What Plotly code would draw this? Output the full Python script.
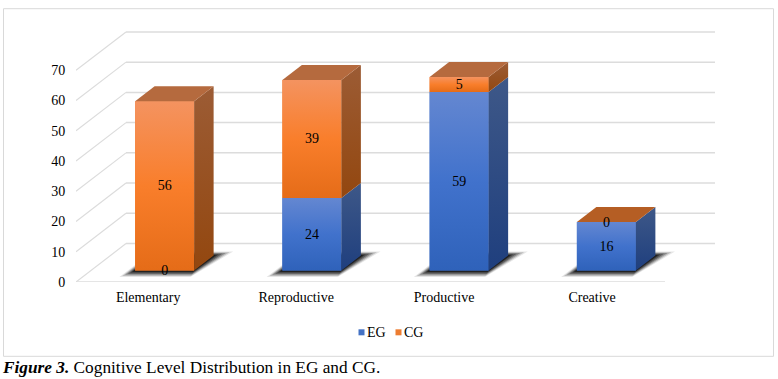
import plotly.graph_objects as go

categories = ["Elementary", "Reproductive", "Productive", "Creative"]
eg_values = [0, 24, 59, 16]
cg_values = [56, 39, 5, 0]
y_ticks = [0, 10, 20, 30, 40, 50, 60, 70]
caption_bold = "Figure 3."
caption_rest = " Cognitive Level Distribution in EG and CG."

W, H = 778, 379
L, R, FLOOR = 76.0, 715.0, 281.7
PX_X, PX_Y = 147.25, 3.023
Y_MAX = 83.0
TOP = FLOOR - Y_MAX * PX_Y
X_MAX = (R - L) / PX_X
DX, DY = 50 / PX_X, 38.4 / PX_Y      # full depth of the 3D floor, in axis units
D0, D1 = 0.30, 0.69                  # bar depth along the floor
BAR_W = 59 / PX_X
FONT = "Liberation Serif"
GRID = "#DCDCDC"

ORANGE = [[0, "#E56C18"], [0.5, "#F97E2B"], [1, "#F49360"]]
BLUE = [[0, "#2F62BA"], [0.5, "#4172CC"], [1, "#6487D1"]]
ORANGE_SIDE = [[0, "#93470F"], [1, "#9C5C35"]]
BLUE_SIDE = [[0, "#1F3F7E"], [1, "#3E5888"]]


def pap_x(px):
    return (px - L) / (R - L)


def pap_y(py):
    return (FLOOR - py) / (FLOOR - TOP)


def grad(scale, y0, y1):
    return dict(type="vertical", colorscale=scale, start=y0, stop=y1)


shapes = []
for v in y_ticks:
    shapes.append(dict(type="line", x0=DX, x1=X_MAX, y0=v + DY, y1=v + DY,
                       line=dict(color=GRID, width=1.5), layer="below"))
    shapes.append(dict(type="line", x0=0, x1=DX, y0=v, y1=v + DY,
                       line=dict(color=GRID, width=1.2), layer="below"))
shapes.append(dict(type="line", x0=0, x1=4, y0=0, y1=0,
                   line=dict(color=GRID, width=1.5), layer="below"))

centers = [i + 0.5 + D0 * DX for i in range(len(categories))]

# soft shadow: nested translucent floor polygons
for c in centers:
    for e, a in [(16, 0.10), (13, 0.18), (10, 0.26), (7, 0.34), (4, 0.42), (2, 0.45)]:
        ex_r = e / PX_X
        ex_l = 0.45 * e / PX_X
        d_a = D0 - (0.5 + e * 0.38) / 38.4
        d_b = D1 + (e * 0.25) / 38.4
        lx = c - BAR_W / 2 - D0 * DX
        rx = c + BAR_W / 2 - D0 * DX
        pts = [(lx - ex_l + d_a * DX, d_a * DY), (rx + ex_r * 0.3 + d_a * DX, d_a * DY),
               (rx + ex_r * 0.9 + d_b * DX, d_b * DY), (lx - ex_l + d_b * DX, d_b * DY)]
        path = "M" + " L".join(f"{x:.4f},{y:.4f}" for x, y in pts) + " Z"
        shapes.append(dict(type="path", path=path, fillcolor=f"rgba(0,0,0,{a})",
                           line=dict(width=0), layer="below"))

# frame
shapes.append(dict(type="rect", xref="paper", yref="paper",
                   x0=pap_x(3.5), x1=pap_x(773.5), y0=pap_y(356), y1=pap_y(8.5),
                   line=dict(color="#D9D9D9", width=1), layer="below"))
# legend swatches
for px, col in [(358.5, "#4472C4"), (395.5, "#ED7D31")]:
    shapes.append(dict(type="rect", xref="paper", yref="paper",
                       x0=pap_x(px), x1=pap_x(px + 6), y0=pap_y(335), y1=pap_y(329),
                       fillcolor=col, line=dict(width=0)))

fig = go.Figure()
floor_base = D0 * DY
eg_bases = [floor_base] * 4
cg_bases = [floor_base + v for v in eg_values]

fig.add_trace(go.Bar(x=centers, y=eg_values, base=eg_bases, width=BAR_W, name="EG",
                     marker=dict(color="#4472C4", line=dict(width=0)), showlegend=False))
fig.add_trace(go.Bar(x=centers, y=cg_values, base=cg_bases, width=BAR_W, name="CG",
                     marker=dict(color="#ED7D31", line=dict(width=0)), showlegend=False))


def poly(xs, ys, scale):
    fig.add_trace(go.Scatter(x=xs + xs[:1], y=ys + ys[:1], mode="lines", fill="toself",
                             fillgradient=grad(scale, min(ys), max(ys)),
                             line=dict(width=0), hoverinfo="skip", showlegend=False))


sdx = (D1 - D0) * DX
sdy = (D1 - D0) * DY
for c, eg, cg, ebase, cbase in zip(centers, eg_values, cg_values, eg_bases, cg_bases):
    l, r = c - BAR_W / 2, c + BAR_W / 2
    for val, base, face, side in [(eg, ebase, BLUE, BLUE_SIDE), (cg, cbase, ORANGE, ORANGE_SIDE)]:
        if val == 0:
            continue
        poly([l, r, r, l], [base, base, base + val, base + val], face)
        fig.add_trace(go.Scatter(
            x=[r, r + sdx, r + sdx, r, r], y=[base, base + sdy, base + val + sdy, base + val, base],
            mode="lines", fill="toself", line=dict(width=0), hoverinfo="skip", showlegend=False,
            fillgradient=grad(side, base, base + val + sdy)))
    top = eg + cg + floor_base
    top_col = "#B55E24" if cg == 0 else "#B56A3E"
    fig.add_trace(go.Scatter(
        x=[l, r, r + sdx, l + sdx, l], y=[top, top, top + sdy, top + sdy, top],
        mode="lines", fill="toself", fillcolor=top_col, line=dict(width=0),
        hoverinfo="skip", showlegend=False))

# data labels (nudged 1 px down to sit where the reference's baseline does)
nudge = 1 / PX_Y
fig.add_trace(go.Scatter(
    x=centers * 2,
    y=[b + v / 2 - nudge for b, v in zip(eg_bases, eg_values)]
      + [b + v / 2 - nudge for b, v in zip(cg_bases, cg_values)],
    text=[str(v) for v in eg_values + cg_values],
    mode="text", textposition="middle center",
    textfont=dict(family=FONT, size=14, color="#000000"),
    hoverinfo="skip", showlegend=False, cliponaxis=False))

annotations = [
    dict(xref="paper", yref="paper", x=pap_x(365), y=pap_y(332), xanchor="left", yanchor="middle",
         text="EG", showarrow=False, font=dict(family=FONT, size=14, color="#000000")),
    dict(xref="paper", yref="paper", x=pap_x(402), y=pap_y(332), xanchor="left", yanchor="middle",
         text="CG", showarrow=False, font=dict(family=FONT, size=14, color="#000000")),
    dict(xref="paper", yref="paper", x=pap_x(0), y=pap_y(367), xanchor="left", yanchor="middle",
         text=f"<b><i>{caption_bold}</i></b>{caption_rest}", showarrow=False,
         font=dict(family=FONT, size=17.3, color="#000000")),
]

fig.update_layout(
    width=W, height=H, paper_bgcolor="white", plot_bgcolor="white",
    margin=dict(l=L, r=W - R, t=TOP, b=H - FLOOR, pad=0, autoexpand=False),
    barmode="overlay", showlegend=False, shapes=shapes, annotations=annotations,
    xaxis=dict(range=[0, X_MAX], tickvals=[i * 1.005 + 0.49 for i in range(4)], ticktext=categories,
               showgrid=False, zeroline=False, showline=False, ticks="outside", ticklen=2,
               tickcolor="rgba(0,0,0,0)", tickfont=dict(family=FONT, size=14, color="#000000")),
    yaxis=dict(range=[0, Y_MAX], tickvals=y_ticks, showgrid=False, zeroline=False, showline=False,
               ticks="outside", ticklen=7, tickcolor="rgba(0,0,0,0)",
               tickfont=dict(family=FONT, size=14, color="#000000")),
)

fig.write_html("out.html", config=dict(displayModeBar=False),
               post_script="document.body.style.margin='0';")
